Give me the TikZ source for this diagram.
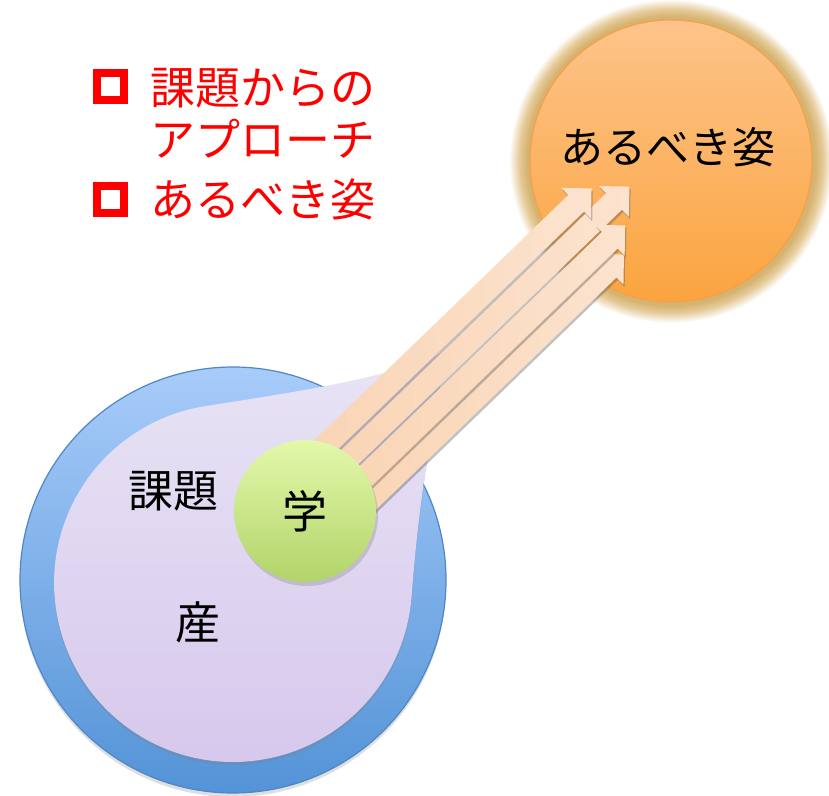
\documentclass[tikz,border=0pt]{standalone}
\usepackage{xcolor}
\usepackage{fontspec}
\setmainfont{Noto Sans CJK JP}
\usepackage{tikz}
\usetikzlibrary{positioning,shapes.arrows,shadows}

\definecolor{fieldtop}{HTML}{A8CCFA}
\definecolor{fieldbot}{HTML}{5393D7}
\definecolor{fieldline}{HTML}{4F86C6}
\definecolor{lavtop}{HTML}{E8E4F5}
\definecolor{lavbot}{HTML}{D6C7EC}
\definecolor{gakutop}{HTML}{E3F8AA}
\definecolor{gakubot}{HTML}{B2D46A}
\definecolor{goaltop}{HTML}{FDC48A}
\definecolor{goalbot}{HTML}{FBA43F}
\definecolor{goalline}{HTML}{F5A04A}
\definecolor{glowtan}{HTML}{D6B370}
\definecolor{glowmid}{HTML}{E6CC9C}
\definecolor{raylow}{HTML}{F9D3B2}
\definecolor{rayhigh}{HTML}{FCE3CF}

% path bbox is mapped onto the inner 25bp of the shading
\pgfdeclareradialshading{goalglow}{\pgfpoint{0bp}{0bp}}{color(0bp)=(glowtan); color(22.3bp)=(glowtan); color(23.5bp)=(glowmid); color(25bp)=(white); color(50bp)=(white)}

\begin{document}
\begin{tikzpicture}[x=0.5pt, y=0.5pt,
        bullet/.style={rectangle, draw=red, line width=4pt, minimum size=13.5pt, inner sep=0pt},
        item/.style={text=red, align=left, anchor=base west, inner sep=0pt, font=\fontsize{22.5}{26}\selectfont},
        word/.style={inner sep=0pt, font=\fontsize{22.5}{26}\selectfont},
        ball/.style={circle, inner sep=0pt},
        ray/.style={single arrow, single arrow head extend=5pt, single arrow tip angle=90,
            inner xsep=0pt, inner ysep=5.5pt, left color=raylow, right color=rayhigh,
            drop shadow={shadow xshift=0.6pt, shadow yshift=-1.2pt, opacity=0.35, fill=black!70}}
    ]
    \useasboundingbox (0,0) rectangle (829,796);

    % goal with its glow
    \shade[shading=goalglow] (671,635) circle (162);
    \node[ball, minimum size=141pt, top color=goaltop, bottom color=goalbot, draw=goalline, line width=0.6pt] (goal) at (671,635) {};
    \node[word, font=\fontsize{21.5}{26}\selectfont] (goaltext) at (668,649) {あるべき姿};

    % field and its bulge
    \node[ball, minimum size=213pt, top color=fieldtop, bottom color=fieldbot, draw=fieldline, line width=0.6pt,
        drop shadow={shadow xshift=0pt, shadow yshift=-2pt, opacity=0.25}] (field) at (233,216) {};
    \path[top color=lavtop, bottom color=lavbot, drop shadow={shadow xshift=0pt, shadow yshift=-1.5pt, opacity=0.3}]
        (447,446) .. controls (400,418) and (268,400) .. (202,389.3)
        arc[start angle=100, end angle=355, radius=179]
        .. controls (414.3,235) and (422,330) .. (447,446) -- cycle;

    % rays towards the goal
    \coordinate (hub) at (305,285);
    \begin{scope}[shift={(hub)}, rotate=44, transform shape]
        \node[ray, minimum height=201pt]    (ray4) at (201,-37) {};
        \node[ray, minimum height=226.5pt]  (ray2) at (226.5,8) {};
        \node[ray, minimum height=212.25pt] (ray1) at (212.25,33) {};
        \node[ray, minimum height=211.5pt]  (ray3) at (211.5,-17) {};
    \end{scope}

    \node[ball, minimum size=71pt, top color=gakutop, bottom color=gakubot, word,
        drop shadow={shadow xshift=1pt, shadow yshift=-2pt, opacity=0.3}] (gaku) at (hub) {学};

    \node[word] (kadai) at (173,305) {課題};
    \node[word] (san) at (198,174) {産};

    % list
    \node[bullet] (b1) at (110.5,709.5) {};
    \node[bullet] (b2) at (110.5,596) {};
    \node[item] (item1) at (150,639) {課題からの\\アプローチ};
    \node[item] (item2) at (150,579) {あるべき姿};
\end{tikzpicture}
\end{document}
